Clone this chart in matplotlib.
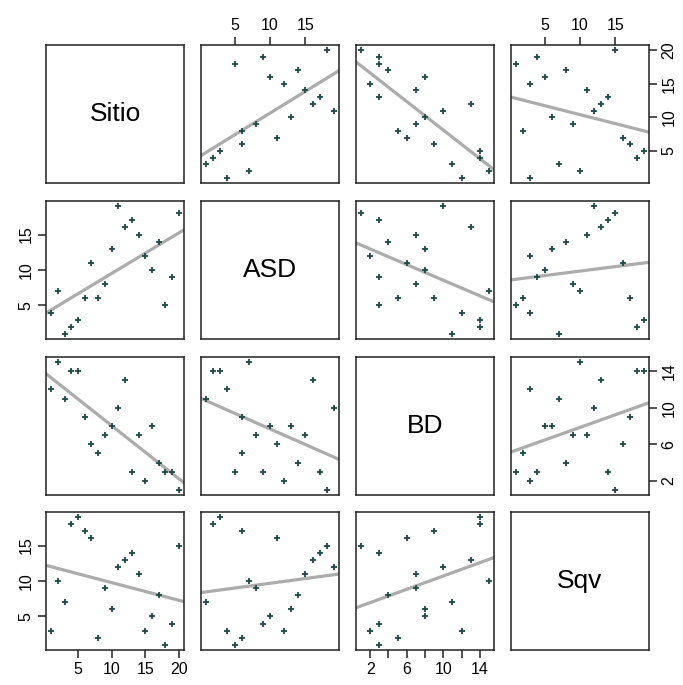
import numpy as np
import matplotlib
matplotlib.use("Agg")
import matplotlib.pyplot as plt

plt.rcParams['font.family'] = ['Liberation Sans', 'DejaVu Sans']

sitio = [1, 2, 3, 4, 5, 6, 7, 8, 9, 10, 11, 12, 13, 14, 15, 16, 17, 18, 19, 20]
asd = [4, 7, 1, 2, 3, 6, 11, 6, 8, 13, 19, 16, 17, 15, 12, 10, 14, 5, 9, 18]
bd = [12, 15, 11, 14, 14, 9, 6, 5, 7, 8, 10, 13, 3, 7, 2, 8, 4, 3, 3, 1]
sqv = [3, 10, 7, 18, 19, 17, 16, 2, 9, 6, 12, 13, 14, 11, 3, 5, 8, 1, 4, 15]

names = ['Sitio', 'ASD', 'BD', 'Sqv']
values = [sitio, asd, bd, sqv]
ticks = [[5, 10, 15, 20], [5, 10, 15], [2, 4, 6, 8, 10, 12, 14], [5, 10, 15]]
yticks = [[5, 10, 15, 20], [5, 10, 15], [2, 6, 10, 14], [5, 10, 15]]

W, H = 683, 685
lefts = [46, 201, 356, 511]
tops = [45, 201, 357, 512]
size = 138

point_color = '#1d4a45'
line_color = '#acacac'
tick_fs = 11.5


def lims(v):
    lo, hi = min(v), max(v)
    pad = (hi - lo) * 0.04
    return lo - pad, hi + pad


def tick_labels(t):
    # R drops labels that would overlap; keep every other one when crowded
    if len(t) > 5:
        return [str(v) if k % 2 == 0 else '' for k, v in enumerate(t)]
    return [str(v) for v in t]


fig = plt.figure(figsize=(W / 100, H / 100), dpi=100)
n = len(names)
for i in range(n):
    for j in range(n):
        ax = fig.add_axes([lefts[j] / W, 1 - (tops[i] + size) / H,
                           size / W, size / H])
        for s in ax.spines.values():
            s.set_linewidth(1.1)
            s.set_color('#222222')
        ax.set_xticks([])
        ax.set_yticks([])
        if i == j:
            ax.set_xlim(0, 1)
            ax.set_ylim(0, 1)
            ax.text(0.5, 0.5, names[i], ha='center', va='center',
                    fontsize=19, transform=ax.transAxes)
        else:
            x = np.array(values[j], dtype=float)
            y = np.array(values[i], dtype=float)
            ax.plot(x, y, linestyle='none', marker='+', ms=4.2, mew=1.3,
                    color=point_color, zorder=3)
            b, a = np.polyfit(x, y, 1)
            xl = np.array(lims(values[j]))
            ax.plot(xl, a + b * xl, color=line_color, lw=2.3, zorder=2)
            ax.set_xlim(lims(values[j]))
            ax.set_ylim(lims(values[i]))

        # R pairs() style alternating axes
        if i == 0 and j % 2 == 1:
            ax.xaxis.tick_top()
            ax.set_xticks(ticks[j], tick_labels(ticks[j]))
        if i == n - 1 and j % 2 == 0:
            ax.set_xticks(ticks[j], tick_labels(ticks[j]))
        if j == 0 and i % 2 == 1:
            ax.set_yticks(yticks[i])
        if j == n - 1 and i % 2 == 0:
            ax.yaxis.tick_right()
            ax.set_yticks(yticks[i])
        ax.tick_params(length=6, width=1.1, labelsize=tick_fs, pad=3,
                       color='#222222')
        ax.tick_params(axis='y', labelrotation=90)
        for lab in ax.get_yticklabels():
            lab.set_va('center')

fig.savefig('out.png', dpi=100)
